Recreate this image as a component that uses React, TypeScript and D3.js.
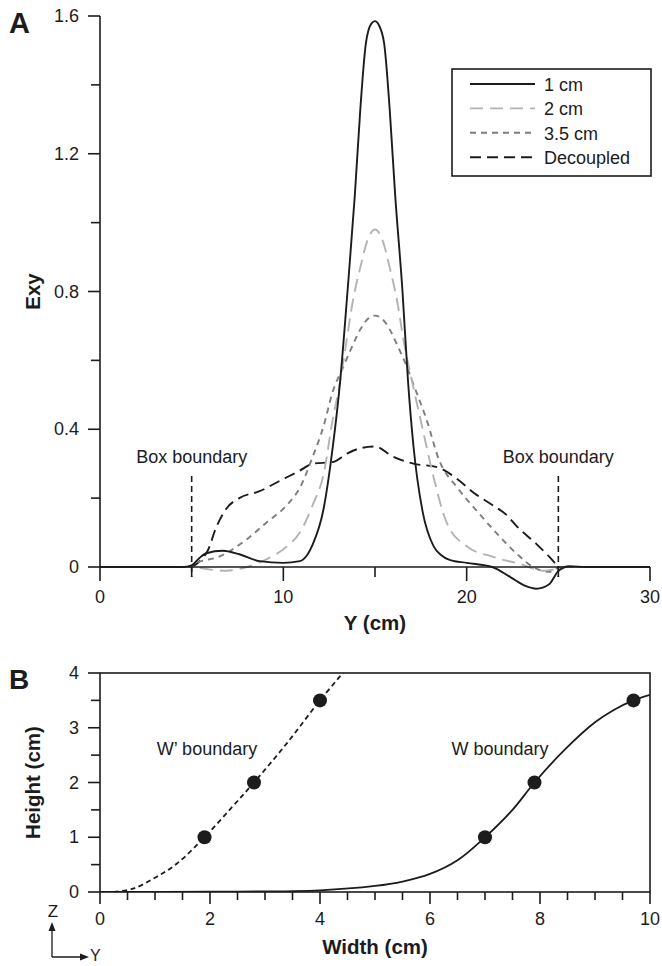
import React from "react";
import * as d3 from "d3";

// ---- Panel A: Exy profiles along Y ----
const oneCmY = [0, 4.5, 5, 5.4, 5.8, 6.7, 7.6, 8.7, 10, 10.9, 11.3, 11.6, 12.2, 12.7, 13.1, 13.5, 13.9, 14.2, 14.5, 14.8, 15, 15.2, 15.5, 15.8, 16.1, 16.5, 16.8, 17.1, 17.6, 18.2, 18.6, 19.1, 20, 21.4, 22.4, 23.2, 23.8, 24.5, 25, 25.6, 26.5, 30];
const oneCmE = [0, 0, 0.005, 0.025, 0.04, 0.047, 0.037, 0.017, 0.012, 0.017, 0.035, 0.065, 0.17, 0.35, 0.54, 0.8, 1.08, 1.33, 1.52, 1.578, 1.585, 1.575, 1.52, 1.33, 1.08, 0.8, 0.54, 0.35, 0.16, 0.06, 0.035, 0.02, 0.012, 0, -0.03, -0.055, -0.063, -0.05, -0.012, 0.002, 0, 0];

const twoCmY = [0, 5, 5.8, 6.9, 8, 9.1, 10.2, 10.9, 11.6, 12.2, 12.7, 13, 13.46, 13.75, 14.2, 14.6, 15, 15.4, 15.8, 16.25, 16.55, 17.1, 17.6, 18.2, 18.9, 20, 21.4, 22.9, 24.2, 24.9, 25.3, 30];
const twoCmE = [0, 0, -0.006, -0.011, 0, 0.023, 0.06, 0.1, 0.18, 0.27, 0.43, 0.51, 0.66, 0.76, 0.87, 0.95, 0.98, 0.95, 0.87, 0.76, 0.66, 0.52, 0.4, 0.26, 0.13, 0.06, 0.03, 0.009, -0.011, -0.005, 0, 0];

const threeCmY = [0, 5, 5.2, 6.5, 8, 9.1, 10.2, 10.9, 11.6, 12.2, 12.7, 13.26, 13.75, 14.2, 14.6, 15, 15.4, 15.8, 16.25, 16.75, 17.1, 17.8, 18.5, 19.5, 20.6, 21.6, 22.7, 23.8, 24.5, 25.1, 30];
const threeCmE = [0, 0, 0.01, 0.03, 0.08, 0.13, 0.18, 0.23, 0.32, 0.41, 0.51, 0.58, 0.64, 0.69, 0.72, 0.73, 0.72, 0.69, 0.64, 0.58, 0.53, 0.43, 0.31, 0.23, 0.16, 0.1, 0.04, -0.005, -0.014, 0, 0];

const decoupledY = [5, 5.5, 5.9, 6.3, 6.9, 7.6, 8.7, 9.8, 10.9, 11.6, 12.7, 13.5, 14.2, 15, 16, 17.1, 18.4, 19.5, 20.4, 21.4, 22.2, 22.7, 23.8, 24.5, 25];
const decoupledE = [0, 0.02, 0.05, 0.11, 0.17, 0.2, 0.22, 0.25, 0.28, 0.3, 0.305, 0.33, 0.345, 0.35, 0.32, 0.3, 0.29, 0.255, 0.215, 0.18, 0.15, 0.12, 0.067, 0.03, 0];

const seriesNames = ["1 cm", "2 cm", "3.5 cm", "Decoupled"];
const boxBoundaries = [5, 25];

const xTicksA = [0, 10, 20, 30];
const xMinorA = [5, 15, 25];
const yTicksA = [0, 0.4, 0.8, 1.2, 1.6];
const yMinorA = [0.2, 0.6, 1.0, 1.4];

// ---- Panel B: boundary shapes ----
const wPrimeCurveX = [0.25, 0.6, 1.0, 1.4, 1.9, 2.4, 2.8, 3.4, 4.0, 4.5];
const wPrimeCurveH = [0, 0.06, 0.26, 0.52, 1.0, 1.55, 2.0, 2.72, 3.5, 4.1];
const wCurveX = [0, 2, 4, 5, 5.5, 6, 6.5, 7, 7.5, 7.9, 8.45, 9, 9.35, 9.7, 10];
const wCurveH = [0, 0.005, 0.03, 0.11, 0.19, 0.33, 0.58, 1.0, 1.5, 2.0, 2.6, 3.1, 3.33, 3.5, 3.6];
const wPrimeDotsX = [1.9, 2.8, 4.0];
const wDotsX = [7.0, 7.9, 9.7];
const dotHeights = [1, 2, 3.5];

const xTicksB = [0, 2, 4, 6, 8, 10];
const xMinorB = [0.5, 1, 1.5, 2.5, 3, 3.5, 4.5, 5, 5.5, 6.5, 7, 7.5, 8.5, 9, 9.5];
const yTicksB = [0, 1, 2, 3, 4];
const yMinorB = [0.5, 1.5, 2.5, 3.5];

const FONT = "'Liberation Sans', Arial, Helvetica, sans-serif";
const INK = "#1c1c1c";

const zip = (xs: number[], ys: number[]) => xs.map((x, i) => [x, ys[i]] as [number, number]);

export default function App() {
  // Panel A scales
  const xA = d3.scaleLinear().domain([0, 30]).range([100, 650]);
  const yA = d3.scaleLinear().domain([0, 1.6]).range([567, 16]);
  const lineA = d3
    .line<[number, number]>()
    .x((d) => xA(d[0]))
    .y((d) => yA(d[1]))
    .curve(d3.curveMonotoneX);

  // Panel B scales
  const xB = d3.scaleLinear().domain([0, 10]).range([100, 650]);
  const yB = d3.scaleLinear().domain([0, 4]).range([892, 673]);
  const lineB = d3
    .line<[number, number]>()
    .x((d) => xB(d[0]))
    .y((d) => yB(d[1]))
    .curve(d3.curveCatmullRom.alpha(0.5));

  const series = [
    { name: seriesNames[0], data: zip(oneCmY, oneCmE), color: INK, dash: "none" },
    { name: seriesNames[1], data: zip(twoCmY, twoCmE), color: "#b3b3b3", dash: "13,7" },
    { name: seriesNames[2], data: zip(threeCmY, threeCmE), color: "#7d7d7d", dash: "6,5" },
    { name: seriesNames[3], data: zip(decoupledY, decoupledE), color: INK, dash: "11,6" },
  ];

  const fmt = (v: number) => (v === 0 ? "0" : d3.format(".1f")(v));

  return (
    <svg
      width={662}
      height={966}
      style={{ position: "absolute", left: 0, top: 0, background: "#fff" }}
      fontFamily={FONT}
    >
      <rect width={662} height={966} fill="#fff" />

      {/* ===== Panel A ===== */}
      <text x={9} y={33} fontSize={29} fontWeight="bold" fill={INK}>A</text>

      {/* curves */}
      <g fill="none" strokeWidth={1.9}>
        {series
          .slice()
          .reverse()
          .map((s) => (
            <path key={s.name} d={lineA(s.data) || ""} stroke={s.color} strokeDasharray={s.dash} />
          ))}
      </g>

      {/* axes */}
      <g stroke={INK} strokeWidth={1.6}>
        <line x1={xA(0)} x2={xA(0)} y1={yA(0)} y2={yA(1.6)} />
        <line x1={xA(0)} x2={xA(30)} y1={yA(0)} y2={yA(0)} />
        {yTicksA.map((t) => (
          <line key={"ya" + t} x1={xA(0) - 12} x2={xA(0)} y1={yA(t)} y2={yA(t)} />
        ))}
        {yMinorA.map((t) => (
          <line key={"yma" + t} x1={xA(0) - 9} x2={xA(0)} y1={yA(t)} y2={yA(t)} />
        ))}
        {xTicksA.map((t) => (
          <line key={"xa" + t} x1={xA(t)} x2={xA(t)} y1={yA(0)} y2={yA(0) + 14} />
        ))}
        {xMinorA.map((t) => (
          <line key={"xma" + t} x1={xA(t)} x2={xA(t)} y1={yA(0)} y2={yA(0) + 10} />
        ))}
      </g>
      <g fontSize={18} fill={INK}>
        {yTicksA.map((t) => (
          <text key={"yla" + t} x={79} y={yA(t) + 6} textAnchor="end">{fmt(t)}</text>
        ))}
        {xTicksA.map((t) => (
          <text key={"xla" + t} x={xA(t)} y={603} textAnchor="middle">{t}</text>
        ))}
      </g>
      <text x={xA(15)} y={630} fontSize={20.5} fontWeight="bold" textAnchor="middle" fill={INK}>Y (cm)</text>
      <text
        transform={`translate(40,${yA(0.8)}) rotate(-90)`}
        fontSize={20.5}
        fontWeight="bold"
        textAnchor="middle"
        fill={INK}
      >
        Exy
      </text>

      {/* box boundaries */}
      {boxBoundaries.map((b) => (
        <g key={"bb" + b}>
          <line
            x1={xA(b)}
            x2={xA(b)}
            y1={476}
            y2={yA(0) + 10}
            stroke={INK}
            strokeWidth={1.6}
            strokeDasharray="6,4"
          />
          <text x={xA(b)} y={463} fontSize={18} textAnchor="middle" fill={INK}>Box boundary</text>
        </g>
      ))}

      {/* legend */}
      <rect x={452} y={69} width={199} height={107} fill="#fff" stroke={INK} strokeWidth={1.6} />
      {series.map((s, i) => {
        const ly = 84 + i * 24.4;
        return (
          <g key={"lg" + s.name}>
            <line x1={470} x2={535} y1={ly} y2={ly} stroke={s.color} strokeWidth={1.9} strokeDasharray={s.dash} />
            <text x={544} y={ly + 7} fontSize={18} fill={INK}>{s.name}</text>
          </g>
        );
      })}

      {/* ===== Panel B ===== */}
      <text x={9} y={689} fontSize={28} fontWeight="bold" fill={INK}>B</text>
      <defs>
        <clipPath id="frameB">
          <rect x={xB(0)} y={yB(4)} width={xB(10) - xB(0)} height={yB(0) - yB(4)} />
        </clipPath>
      </defs>
      <g clipPath="url(#frameB)" fill="none" stroke={INK} strokeWidth={1.8}>
        <path d={lineB(zip(wPrimeCurveX, wPrimeCurveH)) || ""} strokeDasharray="5,3.5" />
        <path d={lineB(zip(wCurveX, wCurveH)) || ""} />
      </g>
      <g fill={INK}>
        {wPrimeDotsX.map((x, i) => (
          <circle key={"wp" + i} cx={xB(x)} cy={yB(dotHeights[i])} r={7} />
        ))}
        {wDotsX.map((x, i) => (
          <circle key={"w" + i} cx={xB(x)} cy={yB(dotHeights[i])} r={7} />
        ))}
      </g>
      <g fontSize={18} fill={INK}>
        <text x={207} y={755} textAnchor="middle">W’ boundary</text>
        <text x={500} y={755} textAnchor="middle">W boundary</text>
      </g>
      <g stroke={INK} strokeWidth={1.6}>
        <rect
          x={xB(0)}
          y={yB(4)}
          width={xB(10) - xB(0)}
          height={yB(0) - yB(4)}
          fill="none"
        />
        {yTicksB.map((t) => (
          <line key={"yb" + t} x1={xB(0) - 12} x2={xB(0)} y1={yB(t)} y2={yB(t)} />
        ))}
        {yMinorB.map((t) => (
          <line key={"ymb" + t} x1={xB(0) - 9} x2={xB(0)} y1={yB(t)} y2={yB(t)} />
        ))}
        {xTicksB.map((t) => (
          <line key={"xb" + t} x1={xB(t)} x2={xB(t)} y1={yB(0)} y2={yB(0) + 12} />
        ))}
        {xMinorB.map((t) => (
          <line key={"xmb" + t} x1={xB(t)} x2={xB(t)} y1={yB(0)} y2={yB(0) + 8} />
        ))}
      </g>
      <g fontSize={18} fill={INK}>
        {yTicksB.map((t) => (
          <text key={"ylb" + t} x={79} y={yB(t) + 6} textAnchor="end">{t}</text>
        ))}
        {xTicksB.map((t) => (
          <text key={"xlb" + t} x={xB(t)} y={925} textAnchor="middle">{t}</text>
        ))}
      </g>
      <text x={xB(5)} y={954} fontSize={20.5} fontWeight="bold" textAnchor="middle" fill={INK}>Width (cm)</text>
      <text
        transform={`translate(40,${yB(2)}) rotate(-90)`}
        fontSize={20.5}
        fontWeight="bold"
        textAnchor="middle"
        fill={INK}
      >
        Height (cm)
      </text>

      {/* orientation glyph */}
      <g stroke={INK} strokeWidth={1.3} fill="none">
        <path d="M52,957 L52,929 M52,957 L82,957" />
      </g>
      <g fill={INK}>
        <path d="M52,922 L48.5,931 L55.5,931 Z" />
        <path d="M89,957 L80,953.5 L80,960.5 Z" />
      </g>
      <text x={53} y={917} fontSize={17} textAnchor="middle" fill={INK}>Z</text>
      <text x={90} y={961} fontSize={16} fill={INK}>Y</text>
    </svg>
  );
}
